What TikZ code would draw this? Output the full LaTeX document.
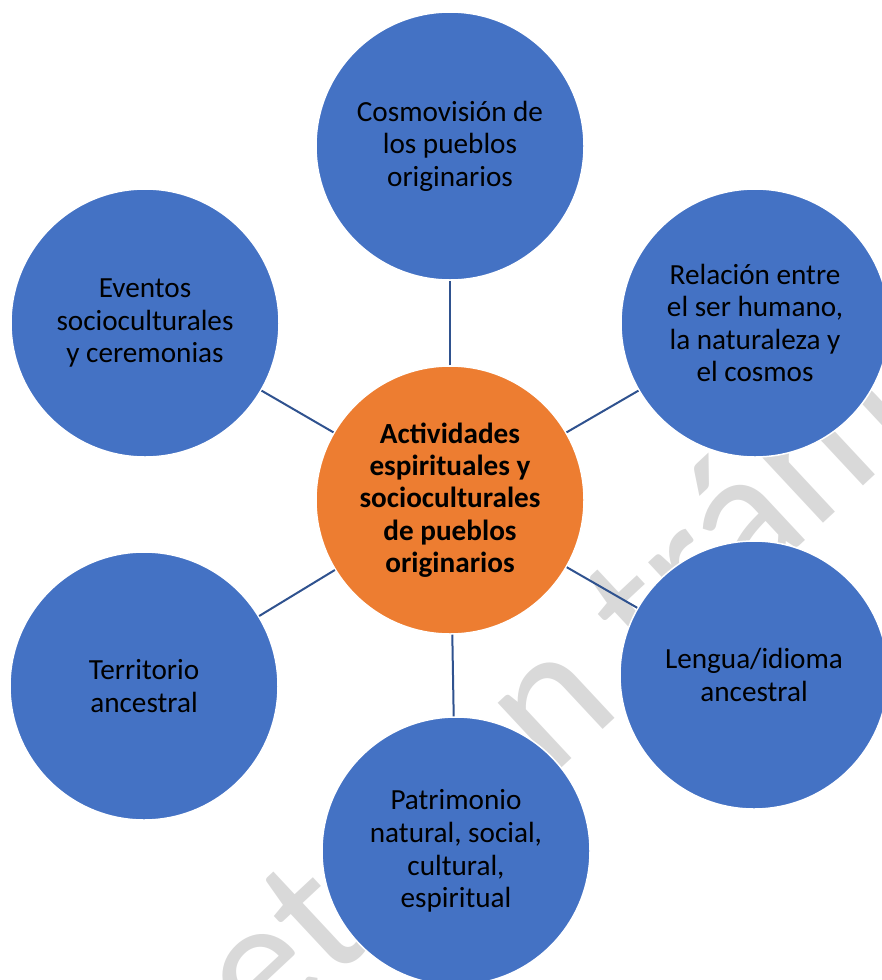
\documentclass[tikz,border=0pt]{standalone}
\usepackage{fontspec}
\setmainfont{Carlito}

\definecolor{topicblue}{HTML}{4472C4}
\definecolor{huborange}{HTML}{ED7D31}
\definecolor{linkblue}{HTML}{2F528F}
\definecolor{markgray}{HTML}{D9D9D9}

\newcommand*\circdiam{134pt}
\tikzset{topic/.style={
    circle,
    draw=white,
    line width=0.75pt,
    fill=topicblue,
    minimum size=\circdiam,
    inner sep=0pt,
    align=center,
    font=\fontsize{14.6}{16.3}\selectfont
},
hub/.style={
    topic,
    fill=huborange,
    font=\fontsize{14.6}{16.1}\selectfont\bfseries
},
link/.style={
    draw=linkblue,
    line width=1pt
}}

\begin{document}
\begin{tikzpicture}[x=0.5pt,y=-0.5pt]

    % Page frame, in pixels of the original.
    \useasboundingbox (0,0) rectangle (882,980);
    \clip (0,0) rectangle (882,980);

    % Watermark behind everything.
    \node[anchor=base, rotate=43, inner sep=0pt, text=markgray,
          font=\fontsize{95}{95}\selectfont] (mark) at (537,791) {Decreto en trámite};

    % The hub and the six topics round it.
    \node[hub] (hub) at (450,500) {Actividades\\espirituales y\\socioculturales\\de pueblos\\originarios};
    \node[topic] (cosmo) at (450,146) {Cosmovisión de\\los pueblos\\originarios};
    \node[topic] (relacion) at (755,323) {Relación entre\\el ser humano,\\la naturaleza y\\el cosmos};
    \node[topic] (lengua) at (754,675) {Lengua/idioma\\ancestral};
    \node[topic] (patrimonio) at (456,851) {Patrimonio\\natural, social,\\cultural,\\espiritual};
    \node[topic] (territorio) at (144,686) {Territorio\\ancestral};
    \node[topic] (eventos) at (145,323) {Eventos\\socioculturales\\y ceremonias};

    % Spokes.
    \foreach \n in {cosmo,relacion,lengua,patrimonio,territorio,eventos}
        \draw[link] (hub) -- (\n);

\end{tikzpicture}
\end{document}
